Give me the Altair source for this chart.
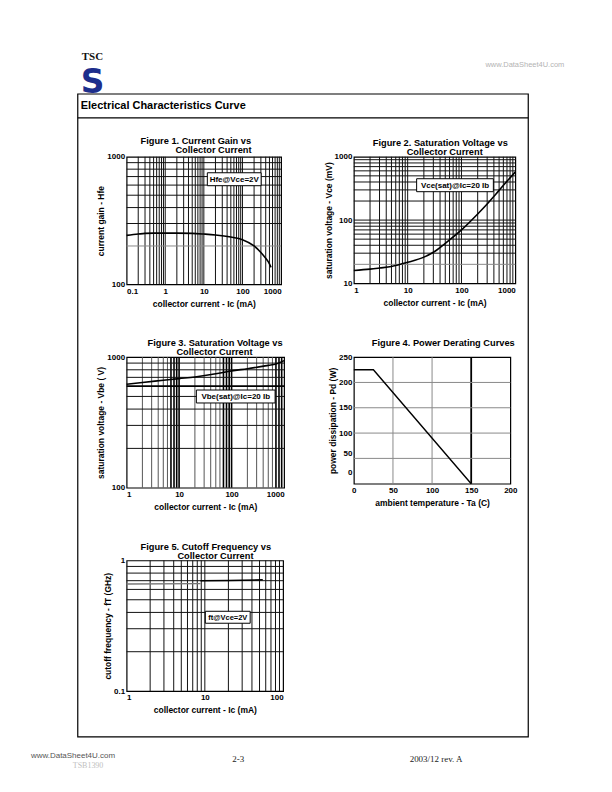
import altair as alt
import pandas as pd

SANS = "Liberation Sans"
SERIF = "Liberation Serif"

# ---------------- Figure 1: Current Gain vs Collector Current ----------------
f1_ic = [0.1, 0.2, 0.3, 0.5, 1, 2, 5, 10, 20, 50, 100, 200, 300, 400, 500, 550]
f1_hfe = [242, 248, 251, 252, 252, 252, 251, 248, 244, 235, 224, 200, 178, 160, 145, 136]
f1_xgrid = [0.2, 0.3, 0.4, 0.5, 0.6, 0.7, 0.8, 0.9, 1, 2, 3, 4, 5, 6, 7, 8, 9, 10,
            20, 30, 40, 50, 60, 70, 80, 90, 100, 200, 300, 400, 500, 600, 700, 800, 900]
f1_ygrid = [300, 400, 500, 600, 700, 800, 900]
f1_ygrid_light = [200]
f1_xlabels = [0.1, 1, 10, 100, 1000]
f1_ylabels = [100, 1000]

# ---------------- Figure 2: Saturation Voltage (Vce) ----------------
f2_ic = [1, 2, 3, 5, 10, 20, 30, 50, 100, 200, 300, 500, 700, 1000]
f2_vce = [16, 16.8, 17.5, 18.5, 21.5, 26, 31, 43, 70, 125, 180, 295, 410, 575]
f2_xgrid = [2, 3, 4, 5, 6, 7, 8, 9, 10, 20, 30, 40, 50, 60, 70, 80, 90, 100,
            200, 300, 400, 500, 600, 700, 800, 900]
f2_ygrid = [30, 40, 50, 60, 70, 80, 90, 100, 200, 300, 400, 500, 600, 700, 800, 900]
f2_ygrid_light = [20]
f2_xlabels = [1, 10, 100, 1000]
f2_ylabels = [10, 100, 1000]

# ---------------- Figure 3: Saturation Voltage (Vbe) ----------------
f3_ic = [1, 2, 5, 10, 20, 50, 100, 200, 500, 700, 1000]
f3_vbe = [620, 640, 665, 685, 705, 745, 785, 815, 865, 885, 940]
f3_xgrid_bold = [7, 8, 9, 10, 70, 80, 90, 100, 700, 800, 900]
f3_xgrid_light = [2, 3, 4, 5, 6, 20, 30, 40, 50, 60, 200, 300, 400, 500, 600]
f3_ygrid = [200, 300, 400, 500, 700, 800, 900]
f3_ygrid_bold = [600]
f3_xlabels = [1, 10, 100, 1000]
f3_ylabels = [100, 1000]

# ---------------- Figure 4: Power Derating ----------------
f4_ta = [0, 25, 150]
f4_pd = [225, 225, 0]
f4_xgrid_light = [50, 100]
f4_xgrid_bold = [150]
f4_ygrid_light = [50, 100, 150, 200]
f4_xlabels = [0, 50, 100, 150, 200]
f4_ytick_pos = [250, 200, 150, 100, 60, 22]
f4_ytick_text = ["250", "200", "150", "100", "50", "0"]

# ---------------- Figure 5: Cutoff Frequency ----------------
f5_ic_a = [1, 8.8]
f5_ft_a = [0.66, 0.665]
f5_ic_b = [8.8, 20, 55]
f5_ft_b = [0.70, 0.703, 0.71]
f5_xgrid = [2, 3, 4, 5, 6, 7, 8, 9, 10, 20, 30, 40, 50, 60, 70, 80, 90]
f5_ygrid = [0.2, 0.3, 0.4, 0.5, 0.6, 0.7, 0.8, 0.9]
f5_xlabels = [1, 10, 100]
f5_ylabels = [0.1, 1]

ONE = pd.DataFrame({"k": [0]})
DARK = "#111111"
LIGHT = "#8a8a8a"


def xaxis(vals, title, flush=True, fmt="~g"):
    return alt.Axis(values=vals, format=fmt, title=title, labelPadding=3, titlePadding=4,
                    labelFlush=flush, labelOverlap=False)


def yaxis(vals, title, fmt="~g", **kw):
    return alt.Axis(values=vals, format=fmt, title=title, labelPadding=2, titlePadding=1,
                    labelOverlap=False, **kw)


class Panel:
    def __init__(self, xscale, yscale, xax, yax):
        self.xs, self.ys, self.xa, self.ya = xscale, yscale, xax, yax

    def vrules(self, vals, color=DARK, width=1.0):
        return alt.Chart(pd.DataFrame({"g": vals})).mark_rule(color=color, strokeWidth=width).encode(
            x=alt.X("g:Q", scale=self.xs, axis=self.xa))

    def hrules(self, vals, color=DARK, width=1.0):
        return alt.Chart(pd.DataFrame({"g": vals})).mark_rule(color=color, strokeWidth=width).encode(
            y=alt.Y("g:Q", scale=self.ys, axis=self.ya))

    def curve(self, xs, ys, color="black", width=1.6, interp="monotone"):
        df = pd.DataFrame({"x": xs, "y": ys})
        return alt.Chart(df).mark_line(color=color, strokeWidth=width, interpolate=interp).encode(
            x=alt.X("x:Q", scale=self.xs, axis=self.xa),
            y=alt.Y("y:Q", scale=self.ys, axis=self.ya))


def text(s, x, y, size=8.5, font=SANS, weight="bold", color="black", align="left"):
    return alt.Chart(ONE).mark_text(text=s, font=font, fontSize=size, fontWeight=weight,
                                    color=color, align=align, baseline="alphabetic").encode(
        x=alt.value(x), y=alt.value(y))


def box(x, x2, y, y2, label, size=8):
    r = alt.Chart(ONE).mark_rect(fill="white", stroke="black", strokeWidth=1).encode(
        x=alt.value(x), x2=alt.value(x2), y=alt.value(y), y2=alt.value(y2))
    t = alt.Chart(ONE).mark_text(text=label, font=SANS, fontSize=size, fontWeight="bold",
                                 align="center", baseline="middle").encode(
        x=alt.value((x + x2) / 2), y=alt.value((y + y2) / 2 + 0.5))
    return [r, t]


# ---------------- panel 1 (also carries the page decorations) ----------------
p1 = Panel(alt.Scale(type="log", domain=[0.1, 1000]), alt.Scale(type="log", domain=[100, 1000]),
           xaxis(f1_xlabels, "collector current - Ic (mA)"), yaxis(f1_ylabels, "current gain - Hfe"))
page = [
    alt.Chart(ONE).mark_rect(fill="white", opacity=0).encode(
        x=alt.value(-118), x2=alt.value(478), y=alt.value(-147), y2=alt.value(629)),
    alt.Chart(ONE).mark_rect(fill=None, stroke="black", strokeWidth=1.2).encode(
        x=alt.value(-49), x2=alt.value(403), y=alt.value(-63), y2=alt.value(582)),
    alt.Chart(ONE).mark_rule(color="black", strokeWidth=1.2).encode(
        x=alt.value(-49), x2=alt.value(403), y=alt.value(-39)),
    text("Electrical Characteristics Curve", -46, -48, size=11),
    text("TSC", -45, -97, size=11, font=SERIF, color="#111111"),
    text("S", -46, -64, size=33, font="DejaVu Sans", color="#1d2e8c"),
    text("www.DataSheet4U.com", 360, -90, size=7.5, color="#b3b3b3", weight="normal"),
    text("TSB1390", -54, 613, size=8, font=SERIF, color="#c0c0c0", weight="normal"),
    text("www.DataSheet4U.com", -96, 603, size=8, color="#555555", weight="normal"),
    text("2-3", 112, 607, size=9, font=SERIF, color="#222222", weight="normal", align="center"),
    text("2003/12 rev. A", 284, 607, size=9, font=SERIF, color="#222222", weight="normal"),
]
fig1 = alt.layer(
    *page,
    p1.vrules(f1_xgrid),
    p1.hrules(f1_ygrid),
    p1.hrules(f1_ygrid_light, LIGHT),
    p1.curve(f1_ic, f1_hfe),
    *box(81, 135, 16, 29, "Hfe@Vce=2V"),
    text("Figure 1. Current Gain vs", 14, -13, size=9.3),
    text("Collector Current", 49, -4, size=9.3),
).properties(width=155, height=128)

# ---------------- panel 2 ----------------
p2 = Panel(alt.Scale(type="log", domain=[1, 1000]), alt.Scale(type="log", domain=[10, 1000]),
           xaxis(f2_xlabels, "collector current - Ic (mA)"),
           yaxis(f2_ylabels, "saturation voltage - Vce (mV)"))
fig2 = alt.layer(
    p2.vrules(f2_xgrid),
    p2.hrules(f2_ygrid),
    p2.hrules(f2_ygrid_light, LIGHT),
    p2.curve(f2_ic, f2_vce),
    *box(63, 140, 22, 35, "Vce(sat)@Ic=20 Ib"),
    text("Figure 2. Saturation Voltage vs", 19, -11, size=9.3),
    text("Collector Current", 53, -2, size=9.3),
).properties(width=162, height=127)

# ---------------- panel 3 ----------------
p3 = Panel(alt.Scale(type="log", domain=[1, 1000]), alt.Scale(type="log", domain=[100, 1000]),
           xaxis(f3_xlabels, "collector current - Ic (mA)"),
           yaxis(f3_ylabels, "saturation voltage - Vbe ( V)"))
fig3 = alt.layer(
    p3.vrules(f3_xgrid_light, "#555555"),
    p3.vrules(f3_xgrid_bold, "black", 1.6),
    p3.hrules(f3_ygrid),
    p3.hrules(f3_ygrid_bold, "black", 1.6),
    p3.curve(f3_ic, f3_vbe),
    *box(70, 149, 33, 46, "Vbe(sat)@Ic=20 Ib"),
    text("Figure 3. Saturation Voltage vs", 21, -11, size=9.3),
    text("Collector Current", 50, -2, size=9.3),
).properties(width=158, height=131)

# ---------------- panel 4 ----------------
f4_expr = "datum.label"
for pos, lab in zip(f4_ytick_pos, f4_ytick_text):
    f4_expr = f"datum.value == {pos} ? '{lab}' : ({f4_expr})"
p4 = Panel(alt.Scale(domain=[0, 200], nice=False), alt.Scale(domain=[0, 250], nice=False),
           xaxis(f4_xlabels, "ambient temperature - Ta (C)", flush=False, fmt="d"),
           yaxis(f4_ytick_pos, "power dissipation - Pd (W)", fmt="d", labelExpr=f4_expr))
fig4 = alt.layer(
    p4.vrules(f4_xgrid_light, LIGHT),
    p4.vrules(f4_xgrid_bold, "black", 1.8),
    p4.hrules(f4_ygrid_light, LIGHT),
    p4.curve(f4_ta, f4_pd, width=1.4, interp="linear"),
    text("Figure 4. Power Derating Curves", 18, -11, size=9.3),
).properties(width=157, height=127)

# ---------------- panel 5 ----------------
p5 = Panel(alt.Scale(type="log", domain=[1, 100]), alt.Scale(type="log", domain=[0.1, 1]),
           xaxis(f5_xlabels, "collector current - Ic (mA)"),
           yaxis(f5_ylabels, "cutoff frequency - fT (GHz)"))
fig5 = alt.layer(
    p5.vrules(f5_xgrid),
    p5.hrules(f5_ygrid),
    p5.curve(f5_ic_a, f5_ft_a, color="#777777", width=1.3, interp="linear"),
    p5.curve(f5_ic_b, f5_ft_b, width=1.5, interp="linear"),
    *box(79, 124, 51, 63, "ft@Vce=2V", size=7.5),
    text("Figure 5. Cutoff Frequency vs", 14, -10, size=9.3),
    text("Collector Current", 51, -1, size=9.3),
).properties(width=157, height=131)

chart = alt.concat(
    fig1, fig2, fig3, fig4, fig5,
    columns=2,
    spacing={"row": 73, "column": 70},
    bounds="flush",
    align="none",
).properties(padding=0, background="white").configure_view(
    stroke="black", strokeWidth=1.2
).configure_axis(
    labelFont=SANS, titleFont=SANS, labelFontWeight="bold", titleFontWeight="bold",
    labelFontSize=8, titleFontSize=8.5, labelColor="black", titleColor="black",
    ticks=False, domain=False, grid=False,
)

chart.save("out.html", embed_options={"renderer": "svg", "actions": False})
